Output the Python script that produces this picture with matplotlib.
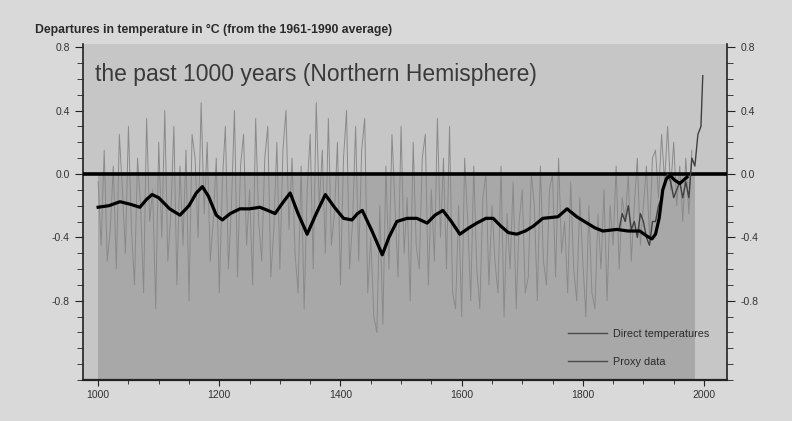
import matplotlib.pyplot as plt
from matplotlib.lines import Line2D
from matplotlib.ticker import MultipleLocator, FixedLocator, FixedFormatter

plt.rcParams['font.family'] = ['Liberation Sans', 'DejaVu Sans']

# smoothed proxy reconstruction (black curve)
smooth_years = [1000, 1018, 1036, 1052, 1069, 1080, 1089, 1100, 1118, 1135, 1150, 1162,
                1172, 1182, 1195, 1205, 1218, 1234, 1250, 1267, 1280, 1292, 1305, 1317,
                1330, 1345, 1360, 1375, 1390, 1405, 1419, 1428, 1436, 1452, 1469, 1480,
                1493, 1510, 1526, 1543, 1556, 1569, 1583, 1597, 1612, 1625, 1640, 1652,
                1665, 1677, 1691, 1705, 1718, 1734, 1759, 1774, 1790, 1807, 1820, 1833,
                1856, 1875, 1894, 1905, 1914, 1920, 1926, 1932, 1938, 1944, 1952, 1960,
                1966, 1972]
smooth_vals = [-0.21, -0.20, -0.175, -0.19, -0.21, -0.16, -0.13, -0.15, -0.22, -0.26, -0.20, -0.12,
               -0.08, -0.14, -0.26, -0.29, -0.25, -0.22, -0.22, -0.21, -0.23, -0.25, -0.18, -0.12,
               -0.25, -0.38, -0.25, -0.13, -0.21, -0.28, -0.29, -0.25, -0.23, -0.36, -0.51, -0.40,
               -0.30, -0.28, -0.28, -0.31, -0.26, -0.23, -0.30, -0.38, -0.34, -0.31, -0.28, -0.28,
               -0.33, -0.37, -0.38, -0.36, -0.33, -0.28, -0.27, -0.22, -0.27, -0.31, -0.34, -0.36,
               -0.35, -0.36, -0.36, -0.39, -0.41, -0.38, -0.28, -0.10, -0.03, -0.01, -0.04, -0.06,
               -0.04, -0.02]

# annual proxy data, sampled every 5 years (grey streaks)
proxy_start = 1000
proxy_vals = [
    -0.05, -0.45, 0.15, -0.55, -0.35, 0.05, -0.60, 0.25, -0.10, -0.50,
    0.30, -0.35, -0.70, 0.10, -0.20, -0.75, 0.35, -0.30, -0.10, -0.85,
    0.20, -0.40, 0.40, -0.55, -0.25, 0.30, -0.70, 0.05, -0.45, 0.15,
    -0.80, 0.25, 0.10, -0.40, 0.45, -0.25, 0.20, -0.55, -0.30, 0.10,
    -0.75, -0.05, 0.30, -0.60, -0.20, 0.40, -0.65, 0.05, 0.25, -0.45,
    -0.10, -0.70, 0.35, -0.30, -0.55, 0.10, 0.30, -0.65, -0.35, 0.20,
    -0.60, 0.15, 0.40, -0.35, 0.10, -0.50, -0.75, 0.05, -0.85, -0.10,
    0.25, -0.60, 0.45, -0.20, 0.15, -0.50, 0.35, -0.45, -0.25, 0.20,
    -0.70, 0.10, 0.40, -0.60, -0.30, 0.30, -0.55, 0.15, 0.35, -0.75,
    -0.40, -0.90, -1.00, -0.20, -0.95, 0.05, -0.60, 0.25, -0.20, -0.65,
    0.30, -0.50, -0.15, -0.80, 0.20, -0.45, -0.60, 0.10, 0.25, -0.70,
    -0.10, -0.55, 0.35, -0.40, 0.10, -0.60, 0.30, -0.75, -0.85, -0.20,
    -0.90, 0.10, -0.30, -0.80, 0.05, -0.60, -0.85, -0.15, 0.00, -0.70,
    -0.20, -0.55, -0.75, 0.05, -0.90, -0.25, -0.60, -0.05, -0.85, -0.30,
    -0.10, -0.75, -0.65, 0.00, -0.20, -0.80, 0.05, -0.55, -0.70, -0.10,
    0.00, -0.65, 0.10, -0.50, -0.30, -0.75, -0.05, -0.60, -0.80, -0.15,
    -0.55, -0.90, -0.20, -0.75, -0.85, -0.25, -0.60, -0.10, -0.80, -0.20,
    -0.45, 0.05, -0.60, -0.15, -0.30, 0.00, -0.55, -0.20, 0.10, -0.45,
    -0.20, 0.05, -0.40, 0.10, 0.15, -0.15, 0.25, -0.05, 0.30, -0.10,
    0.20, -0.20, 0.05, -0.30, 0.10, -0.25, 0.15,
]
proxy_years = [proxy_start + 5 * i for i in range(len(proxy_vals))]

# direct (instrumental) temperatures
direct_years = [1860, 1865, 1870, 1875, 1880, 1885, 1890, 1895, 1900, 1905, 1910, 1915,
                1920, 1925, 1930, 1935, 1940, 1945, 1950, 1955, 1960, 1965, 1970, 1975,
                1980, 1985, 1990, 1995, 1998]
direct_vals = [-0.35, -0.25, -0.30, -0.20, -0.35, -0.30, -0.40, -0.25, -0.30, -0.40, -0.45, -0.30,
               -0.30, -0.20, -0.15, -0.05, 0.00, -0.05, -0.15, -0.10, -0.05, -0.15, -0.05, -0.15,
               0.10, 0.05, 0.25, 0.30, 0.62]

ytick_vals = [-0.8, -0.4, 0.0, 0.4, 0.8]
ytick_labels = ['-0.8', '-0.4', '0.0', '0.4', '0.8']
xtick_vals = [1000, 1200, 1400, 1600, 1800, 2000]

fig = plt.figure(figsize=(7.92, 4.21), dpi=100, facecolor='#d9d9d9')
ax = fig.add_axes([83 / 792, 1 - 380 / 421, (727 - 83) / 792, (380 - 44) / 421])
ax.set_facecolor('#c6c6c6')
ax.set_xlim(975, 2038)
ax.set_ylim(-1.30, 0.82)

# darker shading below zero over the proxy period
ax.fill_between([1000, 1985], [-1.30, -1.30], [0, 0], color='#a8a8a8', lw=0, zorder=1)

ax.plot(proxy_years, proxy_vals, color='#8a8a8a', lw=0.7, zorder=2)
ax.axhline(0, color='black', lw=2.6, zorder=3)
ax.plot(direct_years, direct_vals, color='#404040', lw=1.0, zorder=4)
ax.plot(smooth_years, smooth_vals, color='black', lw=2.3, zorder=5)

ax.spines['top'].set_visible(False)
for s in ['left', 'right', 'bottom']:
    ax.spines[s].set_color('#222222')
ax.spines['bottom'].set_linewidth(1.6)
ax.spines['left'].set_linewidth(1.2)
ax.spines['right'].set_linewidth(1.2)

ax.yaxis.set_major_locator(FixedLocator(ytick_vals))
ax.yaxis.set_major_formatter(FixedFormatter(ytick_labels))
ax.yaxis.set_minor_locator(MultipleLocator(0.1))
ax.xaxis.set_major_locator(FixedLocator(xtick_vals))
ax.xaxis.set_minor_locator(MultipleLocator(50))
ax.tick_params(axis='y', which='both', left=True, right=True, labelleft=True, labelright=True,
               direction='out', color='#222222', labelsize=7.5, labelcolor='#333333')
ax.tick_params(axis='y', which='major', length=6)
ax.tick_params(axis='y', which='minor', length=4)
ax.tick_params(axis='x', which='both', direction='out', color='#222222', labelsize=7.5,
               labelcolor='#333333')
ax.tick_params(axis='x', which='major', length=4)
ax.tick_params(axis='x', which='minor', length=3)

fig.text(35 / 792, 1 - 30 / 421, 'Departures in temperature in °C (from the 1961-1990 average)',
         fontsize=8.8, fontweight='bold', color='#2a2a2a', va='center', ha='left')
fig.text(95 / 792, 1 - 75 / 421, 'the past 1000 years (Northern Hemisphere)',
         fontsize=16.5, color='#3a3a3a', va='center', ha='left')

handles = [Line2D([], [], color='#4a4a4a', lw=1.0), Line2D([], [], color='#4a4a4a', lw=1.0)]
fig.legend(handles, ['Direct temperatures', 'Proxy data'], loc='upper left',
           bbox_to_anchor=(558 / 792, 1 - 319 / 421), frameon=False, fontsize=7.8,
           handlelength=3.6, labelspacing=1.7, handletextpad=0.6, labelcolor='#2a2a2a')

fig.savefig('out.png', dpi=100, facecolor=fig.get_facecolor())
